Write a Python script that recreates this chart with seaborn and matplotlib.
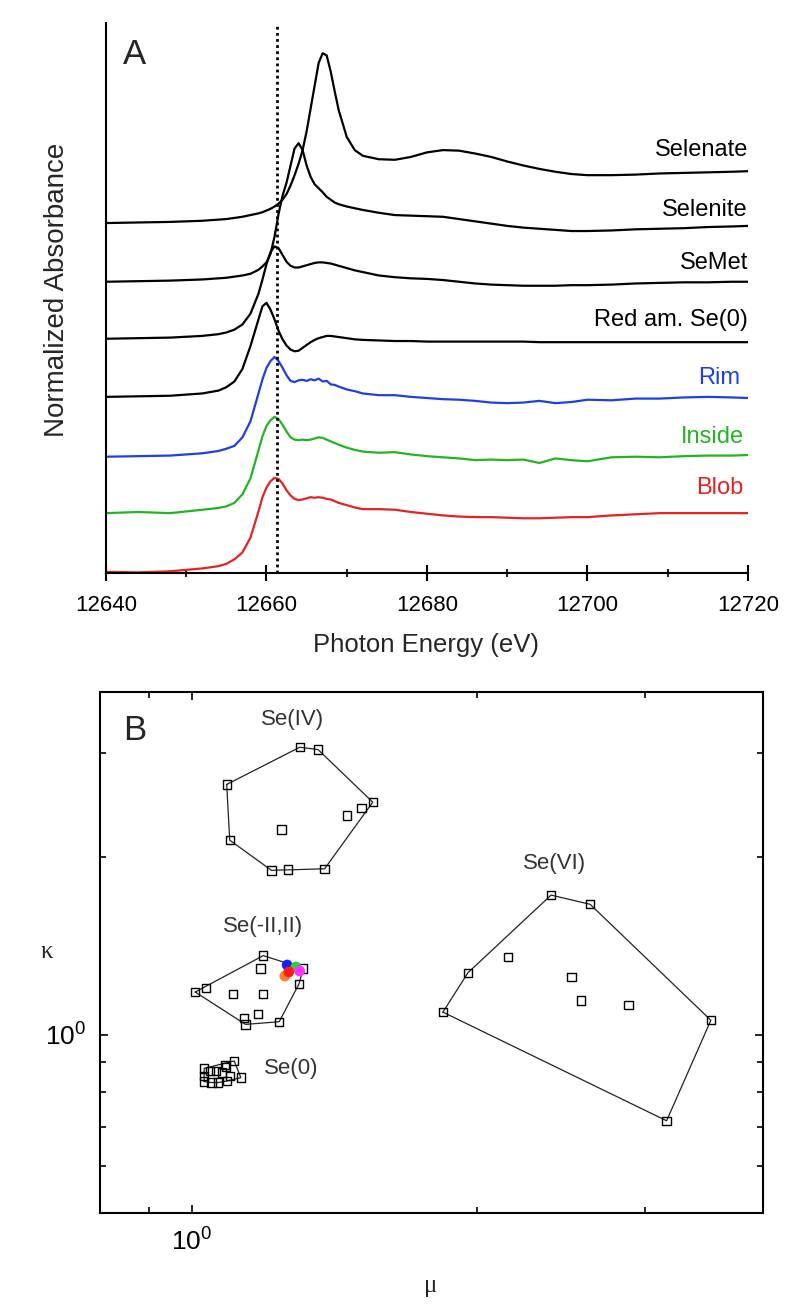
import numpy as np
import pandas as pd
import seaborn as sns
import matplotlib
matplotlib.use("Agg")
import matplotlib.pyplot as plt
from matplotlib.ticker import FixedLocator, FixedFormatter, NullFormatter

##################### Panel A data: stacked normalized XANES #################################
energy = [12640, 12644, 12648, 12652, 12654, 12655, 12656, 12657, 12658, 12659,
          12659.5, 12660, 12660.5, 12661, 12661.5, 12662, 12662.5, 12663, 12663.5, 12664,
          12664.5, 12665, 12665.5, 12666, 12666.5, 12667, 12667.5, 12668, 12668.5, 12669,
          12670, 12671, 12672, 12674, 12676, 12678, 12680, 12682, 12684, 12686,
          12688, 12690, 12692, 12694, 12696, 12698, 12700, 12703, 12706, 12709,
          12712, 12715, 12718, 12720]

selenate = [6.14, 6.15, 6.16, 6.18, 6.20, 6.21, 6.23, 6.25, 6.28, 6.31,
            6.33, 6.36, 6.39, 6.43, 6.48, 6.55, 6.65, 6.80, 6.98, 7.18,
            7.42, 7.75, 8.15, 8.55, 8.95, 9.12, 9.08, 8.80, 8.45, 8.12,
            7.65, 7.42, 7.32, 7.26, 7.25, 7.30, 7.38, 7.42, 7.41, 7.36,
            7.30, 7.22, 7.15, 7.09, 7.04, 7.00, 6.98, 6.98, 6.99, 7.01,
            7.02, 7.03, 7.04, 7.05]
selenite = [5.11, 5.12, 5.13, 5.15, 5.17, 5.18, 5.20, 5.22, 5.25, 5.32,
            5.38, 5.45, 5.60, 5.90, 6.30, 6.62, 6.85, 7.15, 7.45, 7.54,
            7.42, 7.15, 6.95, 6.82, 6.75, 6.68, 6.60, 6.55, 6.50, 6.47,
            6.43, 6.40, 6.37, 6.32, 6.28, 6.27, 6.26, 6.25, 6.21, 6.17,
            6.13, 6.09, 6.06, 6.04, 6.02, 6.00, 6.00, 6.01, 6.03, 6.04,
            6.05, 6.07, 6.08, 6.09]
semet = [4.11, 4.12, 4.13, 4.16, 4.19, 4.22, 4.27, 4.36, 4.55, 4.90,
         5.15, 5.42, 5.63, 5.73, 5.70, 5.58, 5.46, 5.39, 5.36, 5.36,
         5.38, 5.40, 5.42, 5.44, 5.45, 5.45, 5.44, 5.43, 5.41, 5.39,
         5.35, 5.31, 5.28, 5.22, 5.19, 5.17, 5.16, 5.14, 5.11, 5.08,
         5.06, 5.05, 5.04, 5.04, 5.04, 5.05, 5.05, 5.06, 5.08, 5.09,
         5.10, 5.10, 5.11, 5.11]
red_se0 = [3.09, 3.10, 3.11, 3.15, 3.20, 3.26, 3.36, 3.58, 3.98, 4.45,
           4.68, 4.74, 4.62, 4.45, 4.25, 4.10, 3.99, 3.92, 3.89, 3.90,
           3.95, 4.00, 4.05, 4.09, 4.12, 4.14, 4.16, 4.16, 4.15, 4.14,
           4.12, 4.10, 4.09, 4.08, 4.07, 4.07, 4.06, 4.06, 4.06, 4.06,
           4.06, 4.06, 4.06, 4.05, 4.05, 4.05, 4.05, 4.05, 4.05, 4.05,
           4.05, 4.05, 4.05, 4.05]
rim = [2.04, 2.05, 2.06, 2.10, 2.14, 2.18, 2.23, 2.38, 2.66, 3.15,
       3.40, 3.60, 3.72, 3.79, 3.72, 3.60, 3.47, 3.37, 3.35, 3.38,
       3.39, 3.37, 3.40, 3.38, 3.41, 3.36, 3.37, 3.31, 3.30, 3.27,
       3.22, 3.19, 3.15, 3.12, 3.12, 3.09, 3.07, 3.05, 3.04, 3.02,
       2.99, 2.98, 2.99, 3.02, 2.98, 3.00, 3.04, 3.03, 3.06, 3.06,
       3.08, 3.09, 3.08, 3.07]
inside = [1.05, 1.07, 1.05, 1.11, 1.14, 1.17, 1.23, 1.38, 1.66, 2.15,
          2.40, 2.58, 2.68, 2.74, 2.70, 2.60, 2.48, 2.38, 2.34, 2.33,
          2.34, 2.33, 2.34, 2.36, 2.38, 2.37, 2.34, 2.31, 2.28, 2.25,
          2.20, 2.16, 2.13, 2.11, 2.12, 2.08, 2.05, 2.03, 2.01, 1.98,
          1.99, 1.98, 1.99, 1.93, 2.01, 1.98, 1.96, 2.03, 2.04, 2.03,
          2.05, 2.06, 2.06, 2.07]
blob = [0.02, 0.01, 0.03, 0.08, 0.12, 0.16, 0.24, 0.36, 0.62, 1.08,
        1.33, 1.50, 1.61, 1.67, 1.65, 1.57, 1.45, 1.36, 1.30, 1.28,
        1.29, 1.31, 1.33, 1.32, 1.33, 1.32, 1.30, 1.29, 1.26, 1.23,
        1.19, 1.15, 1.12, 1.12, 1.11, 1.07, 1.04, 1.01, 0.99, 0.98,
        0.98, 0.97, 0.96, 0.96, 0.97, 0.98, 0.98, 1.01, 1.03, 1.05,
        1.05, 1.05, 1.05, 1.05]

spectra = [selenate, selenite, semet, red_se0, rim, inside, blob]
spectra_names = ["Selenate", "Selenite", "SeMet", "Red am. Se(0)", "Rim", "Inside", "Blob"]
spectra_colors = ["black", "black", "black", "black", "#1f3fe6", "#22b522", "#e52222"]
label_x = [12720, 12720, 12720, 12720, 12719, 12719.5, 12719.4]
label_y = [7.42, 6.37, 5.44, 4.44, 3.42, 2.39, 1.49]
edge_energy = 12661.25

##################### Panel B data: mu / kappa clusters #################################
se4_mu = [1.088, 1.096, 1.213, 1.263, 1.380, 1.243, 1.457, 1.509, 1.551, 1.299, 1.358]
se4_kappa = [2.652, 2.135, 1.898, 1.905, 1.910, 2.226, 2.350, 2.421, 2.475, 3.065, 3.038]

se6_mu = [2.391, 2.629, 2.153, 1.954, 1.839, 2.513, 2.572, 2.886, 3.524, 3.165]
se6_kappa = [1.724, 1.663, 1.354, 1.274, 1.093, 1.253, 1.144, 1.125, 1.059, 0.716]

se2_mu = [1.189, 1.181, 1.008, 1.034, 1.105, 1.189, 1.173, 1.134, 1.139, 1.236, 1.297, 1.310]
se2_kappa = [1.362, 1.295, 1.182, 1.201, 1.173, 1.173, 1.085, 1.067, 1.042, 1.053, 1.221, 1.296]

se0_mu = [1.030, 1.030, 1.030, 1.045, 1.066, 1.075, 1.083, 1.089, 1.096, 1.108, 1.126, 1.086, 1.049, 1.060]
se0_kappa = [0.878, 0.853, 0.834, 0.869, 0.831, 0.864, 0.890, 0.836, 0.853, 0.904, 0.847, 0.883, 0.831, 0.869]

sample_mu = [1.253, 1.260, 1.287, 1.265, 1.299]
sample_kappa = [1.258, 1.313, 1.303, 1.278, 1.283]
sample_colors = ["#ff7f27", "#1a1aff", "#33cc33", "#ff1a1a", "#ff33ff"]

cluster_names = ["Se(IV)", "Se(-II,II)", "Se(VI)", "Se(0)"]
cluster_label_mu = [1.277, 1.188, 2.411, 1.274]
cluster_label_kappa = [3.42, 1.528, 1.952, 0.876]


def log_hull(xs, ys):
    # convex hull in log-log space (straight edges on the log axes)
    pts = sorted(set(zip(np.log10(xs), np.log10(ys))))
    def cross(o, a, b):
        return (a[0] - o[0]) * (b[1] - o[1]) - (a[1] - o[1]) * (b[0] - o[0])
    lower, upper = [], []
    for p in pts:
        while len(lower) >= 2 and cross(lower[-2], lower[-1], p) <= 0:
            lower.pop()
        lower.append(p)
    for p in reversed(pts):
        while len(upper) >= 2 and cross(upper[-2], upper[-1], p) <= 0:
            upper.pop()
        upper.append(p)
    h = lower[:-1] + upper[:-1]
    h.append(h[0])
    h = np.array(h)
    return 10 ** h[:, 0], 10 ** h[:, 1]


sns.set_theme(style="ticks")
plt.rcParams["font.family"] = ["Liberation Sans", "DejaVu Sans"]

fig = plt.figure(figsize=(7.97, 13.07), dpi=100)

##################### Panel A #################################
axA = fig.add_axes([0.1330, 0.5616, 0.8055, 0.4208])
for name, vals, col in zip(spectra_names, spectra, spectra_colors):
    sns.lineplot(x=energy, y=vals, color=col, lw=1.6, sort=False, estimator=None, ax=axA)
for name, col, lx, ly in zip(spectra_names, spectra_colors, label_x, label_y):
    axA.text(lx, ly, name, color=col, fontsize=17, ha="right", va="center")
axA.axvline(edge_energy, ymin=0, ymax=0.9945, color="black", lw=2, ls=(0, (1, 1.2)))

axA.set_xlim(12640, 12720)
axA.set_ylim(0, 9.65)
sns.despine(ax=axA)
for s in ["left", "bottom"]:
    axA.spines[s].set_linewidth(1.5)
    axA.spines[s].set_color("black")
axA.xaxis.set_major_locator(FixedLocator([12640, 12660, 12680, 12700, 12720]))
axA.xaxis.set_minor_locator(FixedLocator([12650, 12670, 12690, 12710]))
axA.tick_params(axis="x", which="major", direction="inout", length=11, width=1.5, pad=10,
                labelsize=16, colors="black")
axA.tick_params(axis="x", which="minor", direction="inout", length=6, width=1.5)
axA.tick_params(axis="y", left=False, labelleft=False)
axA.set_xlabel("Photon Energy (eV)", fontsize=18.5)
axA.set_ylabel("Normalized Absorbance", fontsize=20)
axA.xaxis.set_label_coords(0.498, -0.109)
axA.yaxis.set_label_coords(-0.056, 0.515)
axA.text(0.045, 0.942, "A", transform=axA.transAxes, fontsize=25, ha="center", va="center")

##################### Panel B #################################
axB = fig.add_axes([0.1255, 0.0719, 0.8319, 0.3986])
axB.set_xscale("log")
axB.set_yscale("log")
hull_col = "#222222"
for mus, kas in [(se4_mu, se4_kappa), (se6_mu, se6_kappa), (se2_mu, se2_kappa), (se0_mu, se0_kappa)]:
    hx, hy = log_hull(mus, kas)
    axB.plot(hx, hy, color=hull_col, lw=0.9)
    sns.scatterplot(x=mus, y=kas, marker="s", s=36, facecolors="none", edgecolors="black",
                    linewidth=1.0, ax=axB, zorder=3)
for m, k, c in zip(sample_mu, sample_kappa, sample_colors):
    axB.scatter([m], [k], s=60, color=c, edgecolors="none", zorder=4)
for name, m, k in zip(cluster_names, cluster_label_mu, cluster_label_kappa):
    axB.text(m, k, name, fontsize=16, color="#333333", ha="center", va="center")

axB.set_xlim(0.8, 4.0)
axB.set_ylim(0.5, 3.8)
for s in axB.spines.values():
    s.set_linewidth(1.5)
    s.set_color("black")
axB.xaxis.set_major_locator(FixedLocator([1]))
axB.xaxis.set_major_formatter(FixedFormatter([r"$\mathregular{10^0}$"]))
axB.xaxis.set_minor_locator(FixedLocator([0.9, 2, 3]))
axB.xaxis.set_minor_formatter(NullFormatter())
axB.yaxis.set_major_locator(FixedLocator([1]))
axB.yaxis.set_major_formatter(FixedFormatter([r"$\mathregular{10^0}$"]))
axB.yaxis.set_minor_locator(FixedLocator([0.6, 0.7, 0.8, 0.9, 2, 3]))
axB.yaxis.set_minor_formatter(NullFormatter())
axB.tick_params(which="both", direction="in", top=True, right=True, colors="black")
axB.tick_params(which="major", length=6, width=1.2, labelsize=19)
axB.tick_params(axis="x", which="major", pad=11)
axB.tick_params(axis="y", which="major", pad=10)
axB.tick_params(which="minor", length=4, width=1.2)
axB.set_xlabel("\u03bc", fontsize=18, family=["Liberation Serif", "DejaVu Serif"])
axB.set_ylabel("\u03ba", fontsize=18, family=["Liberation Serif", "DejaVu Serif"], rotation=0)
axB.xaxis.set_label_coords(0.498, -0.119)
axB.yaxis.set_label_coords(-0.080, 0.480)
axB.text(0.053, 0.927, "B", transform=axB.transAxes, fontsize=25, ha="center", va="center")

fig.savefig("out.png", dpi=100, facecolor="white")
